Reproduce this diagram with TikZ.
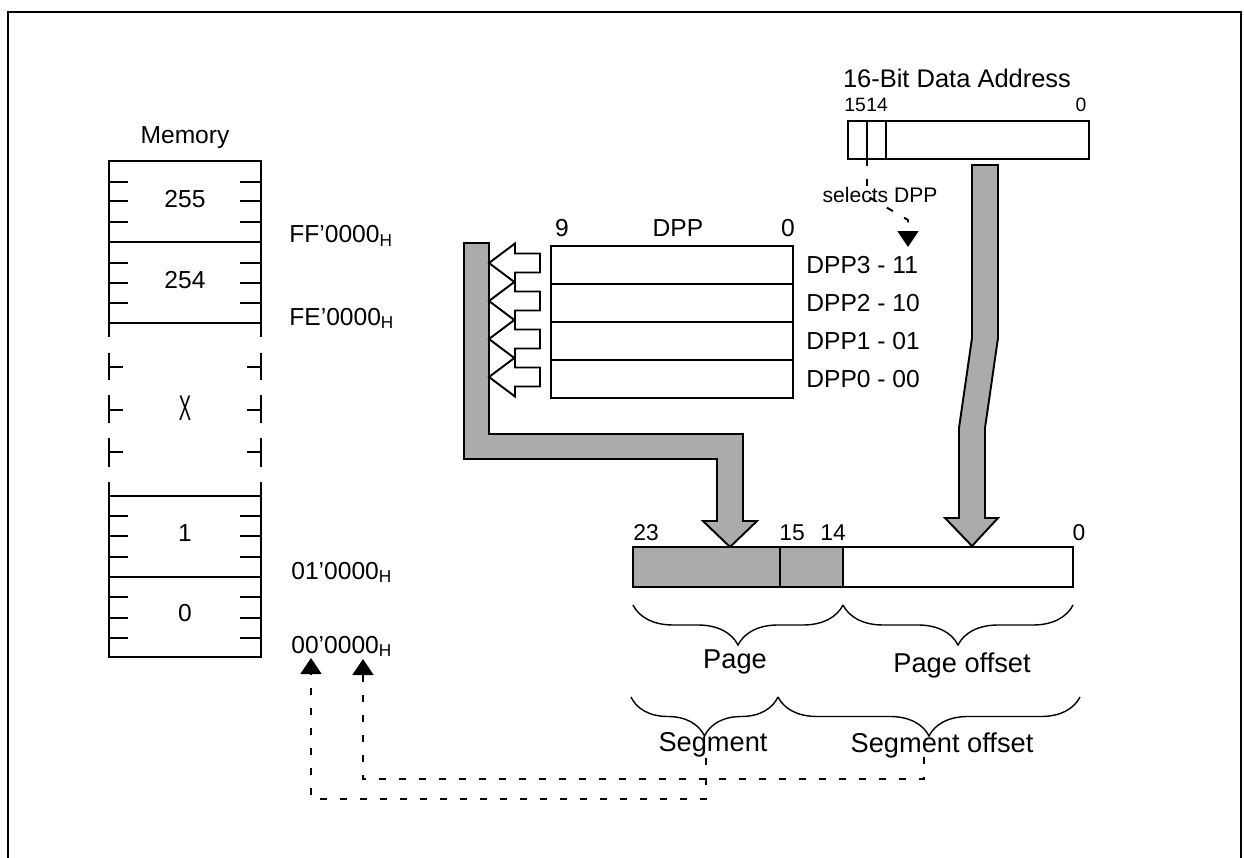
\documentclass[tikz,border=0pt]{standalone}
\usepackage{fontspec}
\usepackage{graphicx}
\setmainfont{Liberation Sans}
\usetikzlibrary{arrows.meta,decorations.pathreplacing}

\begin{document}
\begin{tikzpicture}[x=0.02cm, y=-0.02cm,
    line/.style={line width=1.1pt},
    lbl/.style={inner sep=0pt, font=\fontsize{14}{16}\selectfont},
    biglbl/.style={inner sep=0pt, font=\fontsize{15.5}{18}\selectfont},
    bitlbl/.style={inner sep=0pt, font=\fontsize{13}{15}\selectfont},
    tinylbl/.style={inner sep=0pt, font=\fontsize{11}{13}\selectfont},
    shade/.style={fill=black!33, draw=black, line width=1.1pt},
    hollow/.style={fill=white, draw=black, line width=1.1pt},
    dsh/.style={line width=1.1pt, dash pattern=on 0.14cm off 0.26cm},
    tip/.style={-{Triangle[width=0.42cm,length=0.32cm]}},
    brc/.style={decorate, decoration={brace, mirror, amplitude=#1}, line width=0.8pt},
]
\useasboundingbox (0,0) rectangle (1244,858);
\draw[line width=1.4pt] (8,858) -- (8,12) -- (1241,12) -- (1241,858);

\node[lbl] (memtitle) at (185,138) {Memory};
\draw[line] (109,161) rectangle (261,323);
\draw[line] (109,242) -- (261,242);
\draw[line] (109,496) rectangle (261,657);
\draw[line] (109,577) -- (261,577);
\foreach \y in {182,201,222,263,283,303,516,536,557,597,618,638}
  \draw[line] (109,\y) -- (128,\y) (240,\y) -- (261,\y);
\foreach \a/\b in {323/337,353/380,395/423,438/467,482/496}
  \draw[line] (109,\a) -- (109,\b) (261,\a) -- (261,\b);
\foreach \y in {367,410,452}
  \draw[line] (109,\y) -- (123,\y) (247,\y) -- (261,\y);
\node[lbl] (m255) at (185,199) {255};
\node[lbl] (m254) at (185,280) {254};
\node[lbl] (mx)   at (185,408) {\scalebox{0.75}[1.45]{X}};
\node[lbl] (m1)   at (185,533) {1};
\node[lbl] (m0)   at (185,613) {0};

\node[lbl, anchor=base west] (aff) at (289,243) {FF’0000\textsubscript{H}};
\node[lbl, anchor=base west] (afe) at (289,325) {FE’0000\textsubscript{H}};
\node[lbl, anchor=base west] (a01) at (291,579) {01’0000\textsubscript{H}};
\node[lbl, anchor=base west] (a00) at (291,653) {00’0000\textsubscript{H}};
\coordinate (basea) at (311,658);
\coordinate (baseb) at (363,659);

\node[lbl] (dppnine) at (562,228) {9};
\node[lbl] (dpptitle) at (678,228) {DPP};
\node[lbl] (dppzero) at (788,228) {0};
\foreach \n/\y/\t in {3/246/11,2/284/10,1/322/01,0/360/00} {
  \draw[line] (551,\y) rectangle (793,\y+38);
  \node[lbl, anchor=west] (dpp\n) at (806,\y+19) {DPP\n\ -\ \t};
}

\draw[shade] (464,243) -- (489,243) -- (489,434) -- (743,434) -- (743,521)
  -- (757,521) -- (730,547) -- (703,521) -- (717,521) -- (717,459)
  -- (464,459) -- cycle;
\foreach \y in {263,301,339,377}
  \draw[hollow] (540,\y-9.5) -- (515,\y-9.5) -- (515,\y-19.5) -- (489,\y)
    -- (515,\y+19.5) -- (515,\y+9.5) -- (540,\y+9.5) -- cycle;

\node[lbl, font=\fontsize{14.5}{17}\selectfont] (addrtitle) at (957,78) {16-Bit Data Address};
\draw[line] (848,121) rectangle (1089,159);
\draw[line] (867,121) -- (867,159) (886,121) -- (886,159);
\node[tinylbl] (a15) at (855,105) {15};
\node[tinylbl] (a14) at (877,105) {14};
\node[tinylbl] (a0)  at (1081,105) {0};
\node[inner sep=0pt, font=\fontsize{12}{14}\selectfont] (sel) at (880,195) {selects DPP};
\draw[dsh, tip] (867,159) -- (867,196) -- (908,220) -- (908,247);

\draw[shade] (972,165) -- (998,165) -- (998,338) -- (985,428) -- (985,518)
  -- (998,518) -- (972,546) -- (945,518) -- (959,518) -- (959,428)
  -- (972,338) -- cycle;

\fill[black!33] (633,547) rectangle (843,587);
\draw[line] (633,547) rectangle (1073,587);
\draw[line] (780,547) -- (780,587) (843,547) -- (843,587);
\node[bitlbl] (b23) at (646,533) {23};
\node[bitlbl] (b15) at (792,533) {15};
\node[bitlbl] (b14) at (833,533) {14};
\node[bitlbl] (b0)  at (1079,533) {0};

\draw[brc=0.8cm] (633,605) -- (843,605);
\draw[brc=0.8cm] (843,605) -- (1073,605);
\draw[brc=0.78cm] (631,697) -- (778,697);
\draw[brc=0.78cm] (778,697) -- (1080,697);
\node[biglbl] (page)   at (735,662) {Page};
\node[biglbl] (pageof) at (962,665) {Page offset};
\node[biglbl] (seg)    at (713,745) {Segment};
\node[biglbl] (segof)  at (942,745) {Segment offset};

\coordinate (segdrop) at (706,758);
\coordinate (offdrop) at (924,757);
\draw[dsh, tip] (segdrop) -- ++(0,41) -| (basea);
\draw[dsh, tip] (offdrop) -- ++(0,22) -| (baseb);
\end{tikzpicture}
\end{document}
